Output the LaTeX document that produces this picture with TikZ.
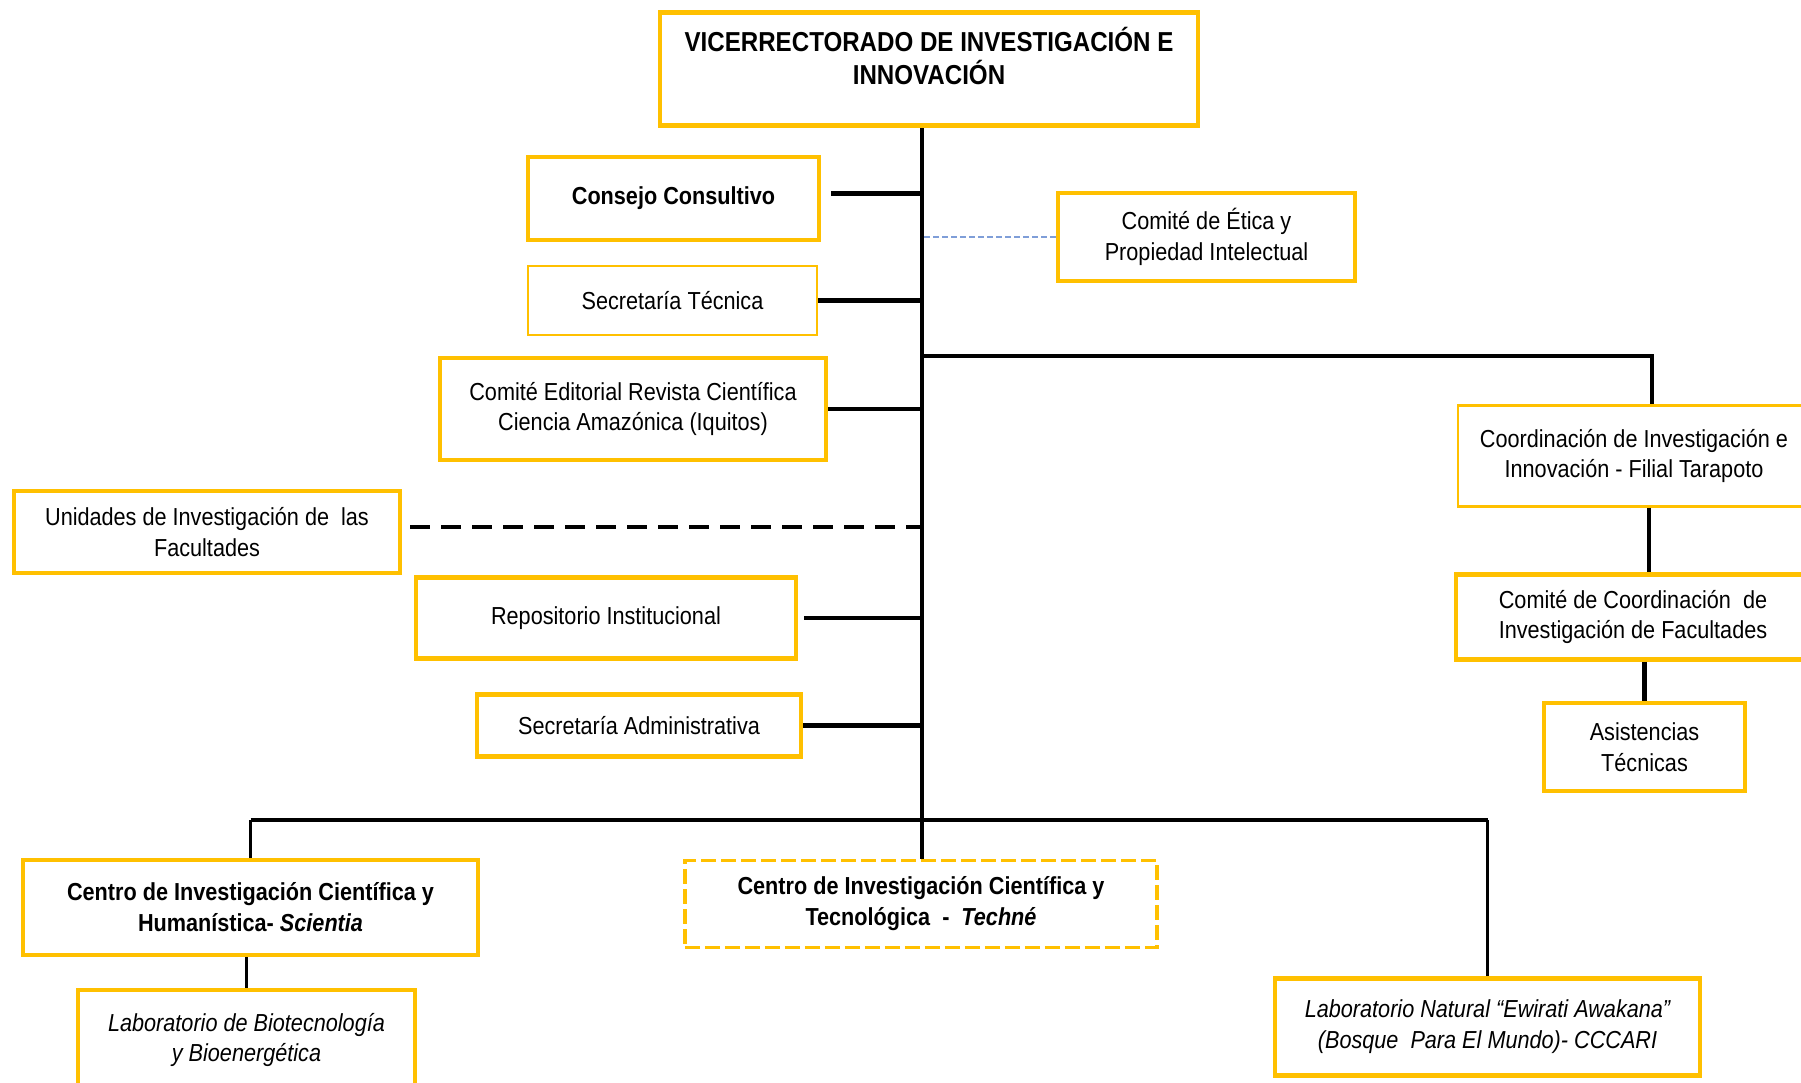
\documentclass[tikz,border=0pt]{standalone}
\usepackage{fontspec}
\setmainfont[FakeStretch=0.88]{Liberation Sans}
\definecolor{amarillo}{HTML}{FFC000}
\definecolor{azul}{HTML}{7F9ED8}

\begin{document}
\begin{tikzpicture}[caja/.style={draw=amarillo,line width=1.4pt,align=center,inner sep=0pt,font=\fontsize{7}{8.8}\selectfont},
                cajafina/.style={caja,line width=0.6pt},
                negrita/.style={font=\fontsize{7}{8.8}\selectfont\bfseries},
                cursiva/.style={font=\fontsize{7}{8.8}\selectfont\itshape},
                linea/.style={line width=1.2pt},
                delgada/.style={line width=0.9pt},
                guiones/.style={line width=1.4pt,dash pattern=on 0.2cm off 0.11cm},
                punteado/.style={draw=azul,line width=0.5pt,dash pattern=on 0.06cm off 0.03cm}]
                \useasboundingbox(0, 0)rectangle(18.01, -10.82);
                \node[caja,anchor=north,minimum width=5.38cm,inner ysep=0.15cm,text depth=0.26cm,font=\fontsize{7.8}{9.4}\selectfont\bfseries](vri)at(9.29, -0.10){VICERRECTORADO DE INVESTIGACIÓN E\\INNOVACIÓN};
                \node[caja,negrita,minimum width=2.91cm,minimum height=0.83cm](consejo)at(6.735, -1.985){Consejo Consultivo};
                \node[caja,minimum width=2.97cm,minimum height=0.88cm](etica)at(12.065, -2.37){Comité de Ética y\\Propiedad Intelectual};
                \node[cajafina,minimum width=2.89cm,minimum height=0.69cm](sectec)at(6.725, -3.005){Secretaría Técnica};
                \node[caja,minimum width=3.86cm,minimum height=1.02cm](editorial)at(6.33, -4.09){Comité Editorial Revista Científica\\Ciencia Amazónica (Iquitos)};
                \node[cajafina,minimum width=3.52cm,minimum height=1.01cm](filial)at(16.34, -4.56){Coordinación de Investigación e\\Innovación - Filial Tarapoto};
                \node[caja,minimum width=3.86cm,minimum height=0.82cm](unidades)at(2.07, -5.32){Unidades de Investigación de\ \ las\\Facultades};
                \node[caja,minimum width=3.80cm,minimum height=0.81cm](repositorio)at(6.06, -6.18){Repositorio Institucional};
                \node[caja,minimum width=3.54cm,minimum height=0.85cm](comite)at(16.33, -6.17){Comité de Coordinación\ \ de\\Investigación de Facultades};
                \node[caja,minimum width=3.24cm,minimum height=0.62cm](secadm)at(6.39, -7.255){Secretaría Administrativa};
                \node[caja,minimum width=2.01cm,minimum height=0.88cm](asistencias)at(16.445, -7.47){Asistencias\\Técnicas};
                \node[caja,negrita,minimum width=4.55cm,minimum height=0.95cm](scientia)at(2.505, -9.075){Centro de Investigación Científica y\\Humanística- \textit{Scientia}};
                \node[caja,negrita,line width=1.1pt,dash pattern=on 0.15cm off 0.05cm,minimum width=4.72cm,minimum height=0.87cm](techne)at(9.21, -9.04){Centro de Investigación Científica y\\Tecnológica\ \ -\ \ \textit{Techné}};
                \node[caja,cursiva,minimum width=3.37cm,minimum height=1.0cm](biotec)at(2.465, -10.40){Laboratorio de Biotecnología\\y Bioenergética};
                \node[caja,cursiva,minimum width=4.25cm,minimum height=0.97cm](natural)at(14.875, -10.27){Laboratorio Natural “Ewirati Awakana”\\(Bosque\ \ Para El Mundo)- CCCARI};
                \coordinate(ramal)at(16.52, -3.56);
                \coordinate(barra)at(9.21, -8.20);
                % tronco central
                \draw[line width=1.1pt]([xshift=0.01cm]vri.south -| techne.north) -- ([xshift=0.01cm]techne.north);
                \path[linea]([yshift=0.05cm]consejo.east) edge[shorten <=0.1cm] ([yshift=0.05cm]consejo.east -| techne.north)
                (sectec.east) edge (sectec.east -| techne.north)
                (editorial.east) edge (editorial.east -| techne.north)
                (repositorio.east) edge[shorten <=0.06cm] (repositorio.east -| techne.north)
                (secadm.east) edge (secadm.east -| techne.north);
                \path[guiones]([yshift=0.05cm]unidades.east) edge[shorten <=0.08cm] ([yshift=0.05cm]unidades.east -| techne.north);
                \path[punteado](etica.west) edge (etica.west -| techne.north);
                % filial
                \draw[linea](ramal -| techne.north) -- (ramal) -- (ramal |- filial.north);
                \draw[linea]([xshift=0.15cm]filial.south) -- ([xshift=0.15cm]filial.south |- comite.north);
                \draw[linea](asistencias.north |- comite.south) -- (asistencias.north);
                % centros
                \draw[line width=1.4pt](scientia.north |- barra) -- (natural.north |- barra);
                \draw[delgada](scientia.north) -- (scientia.north |- barra);
                \draw[delgada](natural.north) -- (natural.north |- barra);
                \draw[delgada](biotec.north) -- (biotec.north |- scientia.south);
            \end{tikzpicture}
\end{document}
